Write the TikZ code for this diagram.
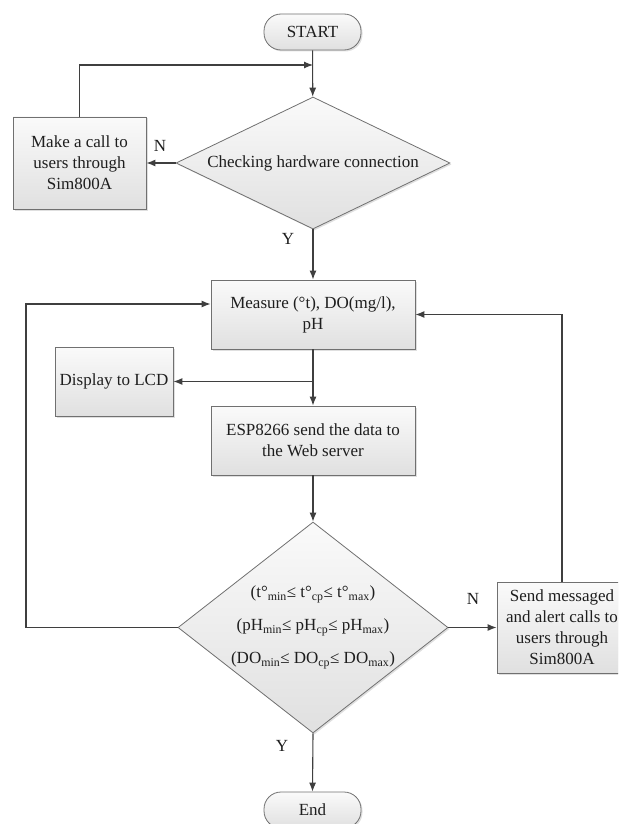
\documentclass[tikz,border=0pt]{standalone}
\usepackage{fontspec}
\setmainfont{Liberation Serif}
\usetikzlibrary{arrows.meta,shapes.geometric,shadows,calc}
\definecolor{fcink}{HTML}{1E1E1E}
\definecolor{fcline}{HTML}{3F3F3F}
\definecolor{fcedge}{HTML}{707070}
\definecolor{fctop}{HTML}{FAFAFA}
\definecolor{fcbottom}{HTML}{E0E0E0}

\begin{document}
\begin{tikzpicture}[x=1pt,y=-1pt,
  font=\fontsize{17}{21}\selectfont, text=fcink,
  shadebox/.style={draw=fcedge, line width=0.8pt, top color=fctop, bottom color=fcbottom,
    drop shadow={shadow xshift=1.5pt, shadow yshift=-1.5pt, opacity=0.25}},
  procbox/.style={shadebox, rectangle, align=center, inner sep=2pt},
  terminal/.style={shadebox, rectangle, rounded corners=17pt, minimum width=97pt, minimum height=36pt},
  decision/.style={shadebox, diamond, align=center, inner sep=0pt},
  flow/.style={draw=fcline, line width=1.1pt, -{Latex[length=9pt,width=7pt]}}]
  \clip (0,0) rectangle (618,824);

  % Start and hardware check
  \node[terminal] (start) at (312.5,32) {START};
  \node[decision, minimum width=274pt, minimum height=132pt, aspect=2.08] (hwcheck) at (313,163) {Checking hardware connection};
  \node[procbox, minimum width=133pt, minimum height=92pt] (call) at (79.5,163) {Make a call to\\users through\\Sim800A};
  \coordinate (rejoin) at (313,65);

  \draw[flow] (start) -- (hwcheck);
  \draw[flow] (call.north) |- (rejoin);
  \draw[flow] (hwcheck.west) -- (call.east);
  \node (hwno) at (160,146) {N};

  % Measuring and sending
  \node[procbox, minimum width=204pt, minimum height=69pt] (measure) at (313,314.5) {Measure (°t), DO(mg/l),\\pH};
  \node[procbox, minimum width=118pt, minimum height=69pt] (lcd) at (114,381.5) {Display to LCD};
  \node[procbox, minimum width=204pt, minimum height=69pt] (esp) at (313,440.5) {ESP8266 send the data to\\the Web server};
  \coordinate (split) at (measure.south |- lcd.east);

  \draw[flow] (hwcheck.south) -- (measure.north);
  \node (hwyes) at (288,239) {Y};
  \draw[flow] (measure) -- (esp);
  \draw[flow] (split) -- (lcd.east);

  % Limit check
  \node[decision, minimum width=268pt, minimum height=209pt, aspect=1.28, font=\fontsize{17}{33}\selectfont] (limits) at (313,627.5)
    {(t°\textsubscript{min}≤ t°\textsubscript{cp}≤ t°\textsubscript{max})\\
     (pH\textsubscript{min}≤ pH\textsubscript{cp}≤ pH\textsubscript{max})\\
     (DO\textsubscript{min}≤ DO\textsubscript{cp}≤ DO\textsubscript{max})};
  \node[procbox, minimum width=130pt, minimum height=91pt] (alert) at (562,627.5) {Send messaged\\and alert calls to\\users through\\Sim800A};
  \node[terminal] (end) at (312.5,810) {End};
  \coordinate (leftrail) at (26,304);

  \draw[flow] (esp) -- (limits);
  \draw[flow] (limits.east) -- (alert.west);
  \node (limno) at (473,599) {N};
  \draw[flow] (limits.south) -- (end.north);
  \node (limyes) at (282,746) {Y};
  \draw[flow] (limits.west) -| (leftrail) -- (leftrail -| measure.west);
  \draw[flow] (alert.north) |- (measure.east);
\end{tikzpicture}
\end{document}
